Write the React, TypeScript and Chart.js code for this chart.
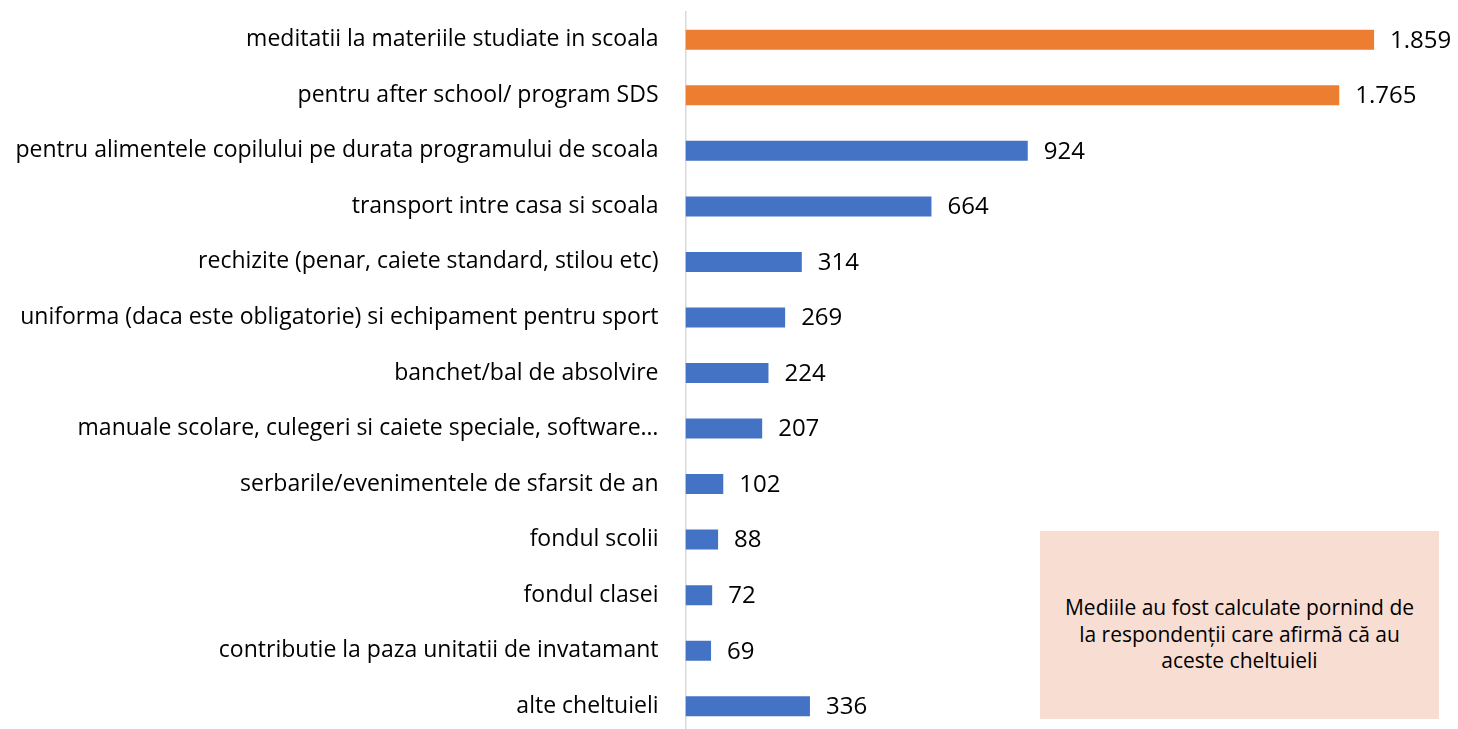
import React, { useEffect, useRef } from "react";
import { Chart, registerables } from "chart.js";

Chart.register(...registerables);

const categories = [
  "meditatii la materiile studiate in scoala",
  "pentru after school/ program SDS",
  "pentru alimentele copilului pe durata programului de scoala",
  "transport intre casa si scoala",
  "rechizite (penar, caiete standard, stilou etc)",
  "uniforma (daca este obligatorie) si echipament pentru sport",
  "banchet/bal de absolvire",
  "manuale scolare, culegeri si caiete speciale, software…",
  "serbarile/evenimentele de sfarsit de an",
  "fondul scolii",
  "fondul clasei",
  "contributie la paza unitatii de invatamant",
  "alte cheltuieli",
];

const values = [1859, 1765, 924, 664, 314, 269, 224, 207, 102, 88, 72, 69, 336];

const highlighted = [true, true, false, false, false, false, false, false, false, false, false, false, false];

const noteLines = [
  "Mediile au fost calculate pornind de",
  "la respondenții care afirmă că au",
  "aceste cheltuieli",
];

const ORANGE = "#ED7D31";
const BLUE = "#4472C4";
const FONT = "'Open Sans', Lato, sans-serif";

function fmt(v: number): string {
  return String(v).replace(/\B(?=(\d{3})+(?!\d))/g, ".");
}

const valueLabels = {
  id: "valueLabels",
  afterDatasetsDraw(chart: any) {
    const ctx = chart.ctx;
    const meta = chart.getDatasetMeta(0);
    ctx.save();
    ctx.fillStyle = "#000";
    ctx.font = `24px ${FONT}`;
    ctx.textAlign = "left";
    ctx.textBaseline = "middle";
    meta.data.forEach((el: any, i: number) => {
      ctx.fillText(fmt(values[i]), el.x + 16, el.y + 1);
    });
    ctx.restore();
  },
};

export default function App() {
  const ref = useRef<HTMLCanvasElement | null>(null);

  useEffect(() => {
    document.body.style.margin = "0";
    document.documentElement.style.overflow = "hidden";
    document.body.style.overflow = "hidden";
    const chart = new Chart(ref.current as HTMLCanvasElement, {
      type: "bar",
      data: {
        labels: categories,
        datasets: [
          {
            data: values,
            backgroundColor: highlighted.map((h) => (h ? ORANGE : BLUE)),
            barPercentage: 0.72,
            categoryPercentage: 0.5,
          },
        ],
      },
      options: {
        indexAxis: "y",
        animation: false,
        responsive: false,
        maintainAspectRatio: false,
        layout: { padding: { top: 12, bottom: 6, right: 31.7, left: 0 } },
        plugins: { legend: { display: false }, tooltip: { enabled: false } },
        scales: {
          x: {
            min: 0,
            max: 2000,
            display: false,
            grid: { display: false },
          },
          y: {
            afterFit(scale: any) {
              scale.width = 685.5;
              scale.paddingTop = 0;
              scale.paddingBottom = 0;
            },
            grid: { display: false, drawTicks: false },
            border: { display: true, color: "#D9D9D9", width: 1.5 },
            ticks: {
              padding: 27,
              color: "#000",
              font: { family: FONT, size: 23 },
              autoSkip: false,
            },
          },
        },
      },
      plugins: [valueLabels],
    });
    return () => chart.destroy();
  }, []);

  return (
    <div style={{ position: "relative", width: 1458, height: 740 }}>
      <canvas ref={ref} width={1458} height={740} style={{ display: "block" }} />
      <div
        style={{
          position: "absolute",
          left: 1040,
          top: 531,
          width: 399,
          height: 188,
          background: "#F8DDD2",
          display: "flex",
          flexDirection: "column",
          alignItems: "center",
          justifyContent: "center",
          paddingTop: 18,
          boxSizing: "border-box",
          fontFamily: FONT,
          fontSize: 21,
          lineHeight: "26.5px",
          color: "#000",
          textAlign: "center",
        }}
      >
        {noteLines.map((l, i) => (
          <div key={i}>{l}</div>
        ))}
      </div>
    </div>
  );
}
